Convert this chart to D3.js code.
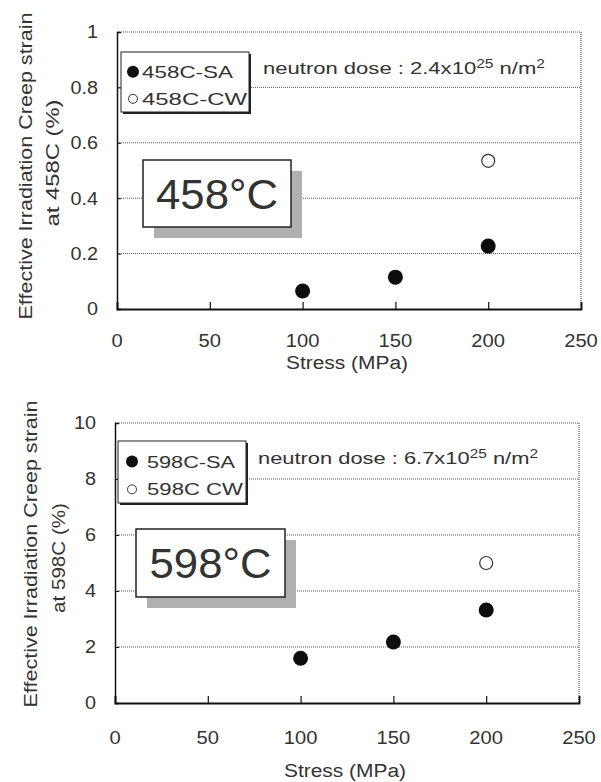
<!DOCTYPE html>
<html><head><meta charset="utf-8">
<script src="https://cdn.jsdelivr.net/npm/d3@7/dist/d3.min.js"></script>
<style>
html,body{margin:0;padding:0;background:#fff;}
svg text{font-family:"Liberation Sans",Arial,sans-serif;fill:#333;}
</style></head>
<body><svg id="c" width="601" height="782"></svg>
<script>
// ---- data ----
const stressTicks = [0, 50, 100, 150, 200, 250];
const xLabel = "Stress (MPa)";

const yTicks458 = [0, 0.2, 0.4, 0.6, 0.8, 1];
const saStress458 = [100, 150, 200];
const saStrain458 = [0.065, 0.115, 0.227];
const cwStress458 = [200];
const cwStrain458 = [0.535];
const legend458 = ["458C-SA", "458C-CW"];
const dose458 = "2.4x10";
const temp458 = "458°C";
const yTitle458 = ["Effective Irradiation Creep strain", "at 458C (%)"];

const yTicks598 = [0, 2, 4, 6, 8, 10];
const saStress598 = [100, 150, 200];
const saStrain598 = [1.6, 2.18, 3.32];
const cwStress598 = [200];
const cwStrain598 = [5.0];
const legend598 = ["598C-SA", "598C CW"];
const dose598 = "6.7x10";
const temp598 = "598°C";
const yTitle598 = ["Effective Irradiation Creep strain", "at 598C (%)"];

const panels = [
  {left:117, right:581, top:32, bottom:309, yTicks:yTicks458, saX:saStress458, saY:saStrain458,
   cwX:cwStress458, cwY:cwStrain458, legend:legend458, dose:dose458, temp:temp458, yTitle:yTitle458,
   legBox:[121,52,128,60], legDot:133, legText:142, legW:[91,105], tempBox:[143,160,148,67],
   doseX:263, doseY:74, doseW:282,
   tickLabY:347, xTitleY:369, yLabX:98, t1x:32, t1y:166, t2x:59, t2y:163, t2len:127},
  {left:115, right:579, top:423, bottom:703, yTicks:yTicks598, saX:saStress598, saY:saStrain598,
   cwX:cwStress598, cwY:cwStrain598, legend:legend598, dose:dose598, temp:temp598, yTitle:yTitle598,
   legBox:[118,441,128,62], legDot:132, legText:147, legW:[88,96], tempBox:[136,529,149,68],
   doseX:258, doseY:464, doseW:280,
   tickLabY:744, xTitleY:777, yLabX:96, t1x:37, t1y:554, t2x:65, t2y:558, t2len:110}
];

const svg = d3.select("#c");

function stretch(sel, f) {
  sel.each(function () {
    const L = this.getComputedTextLength();
    d3.select(this).attr("textLength", L * f).attr("lengthAdjust", "spacingAndGlyphs");
  });
}

panels.forEach(p => {
  const x = d3.scaleLinear().domain([0, 250]).range([p.left, p.right]);
  const yMax = p.yTicks[p.yTicks.length - 1];
  const y = d3.scaleLinear().domain([0, yMax]).range([p.bottom, p.top]);
  const g = svg.append("g");

  // gridlines (dotted) incl. top frame
  g.selectAll(".grid").data(p.yTicks.filter(t => t > 0)).join("line")
    .attr("x1", p.left).attr("x2", p.right)
    .attr("y1", d => y(d)).attr("y2", d => y(d))
    .attr("stroke", "#555").attr("stroke-width", 1).attr("stroke-dasharray", "1,1");
  g.append("line").attr("x1", p.right).attr("x2", p.right).attr("y1", p.top).attr("y2", p.bottom)
    .attr("stroke", "#555").attr("stroke-width", 1.2).attr("stroke-dasharray", "1,1");

  // axes with inward ticks
  const ya = g.append("g").attr("transform", `translate(${p.left},0)`)
    .call(d3.axisLeft(y).tickValues(p.yTicks).tickSize(-4).tickFormat(""));
  ya.select(".domain").attr("stroke", "#111").attr("stroke-width", 1.5);
  ya.selectAll(".tick line").attr("stroke", "#111");
  const xa = g.append("g").attr("transform", `translate(0,${p.bottom})`)
    .call(d3.axisBottom(x).tickValues(stressTicks).tickSize(-7).tickFormat(""));
  xa.select(".domain").attr("stroke", "#111").attr("stroke-width", 1.8);
  xa.selectAll(".tick line").attr("stroke", "#111").attr("stroke-width", 1.2);

  // tick labels
  const yl = g.selectAll(".ylab").data(p.yTicks).join("text")
    .attr("x", p.yLabX).attr("y", d => y(d)).attr("dy", "0.35em")
    .attr("text-anchor", "end").attr("font-size", 18).text(d => d);
  stretch(yl, 1.1);
  const xl = g.selectAll(".xlab").data(stressTicks).join("text")
    .attr("x", d => x(d)).attr("y", p.tickLabY)
    .attr("text-anchor", "middle").attr("font-size", 18).text(d => d);
  stretch(xl, 1.12);
  g.append("text").attr("x", (p.left + p.right) / 2 - 2).attr("y", p.xTitleY)
    .attr("text-anchor", "middle").attr("font-size", 18)
    .attr("textLength", 122).attr("lengthAdjust", "spacingAndGlyphs").text(xLabel);

  // y title
  g.append("text").attr("transform", `translate(${p.t1x},${p.t1y}) rotate(-90)`)
    .attr("text-anchor", "middle").attr("font-size", 18)
    .attr("textLength", 307).attr("lengthAdjust", "spacingAndGlyphs").text(p.yTitle[0]);
  g.append("text").attr("transform", `translate(${p.t2x},${p.t2y}) rotate(-90)`)
    .attr("text-anchor", "middle").attr("font-size", 18)
    .attr("textLength", p.t2len).attr("lengthAdjust", "spacingAndGlyphs").text(p.yTitle[1]);

  // temperature label with shadow
  const [tx, ty, tw, th] = p.tempBox;
  g.append("rect").attr("x", tx + 11).attr("y", ty + 11).attr("width", tw).attr("height", th)
    .attr("fill", "#b0b0b0");
  g.append("rect").attr("x", tx).attr("y", ty).attr("width", tw).attr("height", th)
    .attr("fill", "#fff").attr("stroke", "#222").attr("stroke-width", 1.5);
  g.append("text").attr("x", tx + tw / 2).attr("y", ty + th / 2).attr("dy", "0.36em")
    .attr("text-anchor", "middle").attr("font-size", 42).attr("fill", "#151515")
    .attr("textLength", 122).attr("lengthAdjust", "spacingAndGlyphs").text(p.temp);

  // legend
  const [lx, ly, lw, lh] = p.legBox;
  g.append("rect").attr("x", lx + 2).attr("y", ly + 2).attr("width", lw).attr("height", lh).attr("fill", "#222");
  g.append("rect").attr("x", lx).attr("y", ly).attr("width", lw).attr("height", lh)
    .attr("fill", "#fff").attr("stroke", "#222").attr("stroke-width", 1);
  const rows = [ly + lh * 0.33, ly + lh * 0.78];
  g.append("circle").attr("cx", p.legDot).attr("cy", rows[0]).attr("r", 6).attr("fill", "#111");
  g.append("circle").attr("cx", p.legDot).attr("cy", rows[1]).attr("r", 4.5).attr("fill", "#fff")
    .attr("stroke", "#333").attr("stroke-width", 1);
  p.legend.forEach((t, i) => {
    g.append("text").attr("x", p.legText).attr("y", rows[i]).attr("dy", "0.36em")
      .attr("font-size", 17).attr("textLength", p.legW[i]).attr("lengthAdjust", "spacingAndGlyphs").text(t);
  });

  // dose annotation
  const dt = g.append("text").attr("x", p.doseX).attr("y", p.doseY).attr("font-size", 17)
    .attr("textLength", p.doseW).attr("lengthAdjust", "spacingAndGlyphs");
  dt.append("tspan").text("neutron dose : " + p.dose);
  dt.append("tspan").attr("font-size", 12).attr("dy", -6).text("25");
  dt.append("tspan").attr("dy", 6).text(" n/m");
  dt.append("tspan").attr("font-size", 12).attr("dy", -6).text("2");

  // data points
  g.selectAll(".sa").data(p.saX.map((s, i) => [s, p.saY[i]])).join("circle")
    .attr("cx", d => x(d[0])).attr("cy", d => y(d[1])).attr("r", 7.5).attr("fill", "#0d0d0d");
  g.selectAll(".cw").data(p.cwX.map((s, i) => [s, p.cwY[i]])).join("circle")
    .attr("cx", d => x(d[0])).attr("cy", d => y(d[1])).attr("r", 6.5).attr("fill", "#fff")
    .attr("stroke", "#333").attr("stroke-width", 1.2);
});
</script></body></html>
